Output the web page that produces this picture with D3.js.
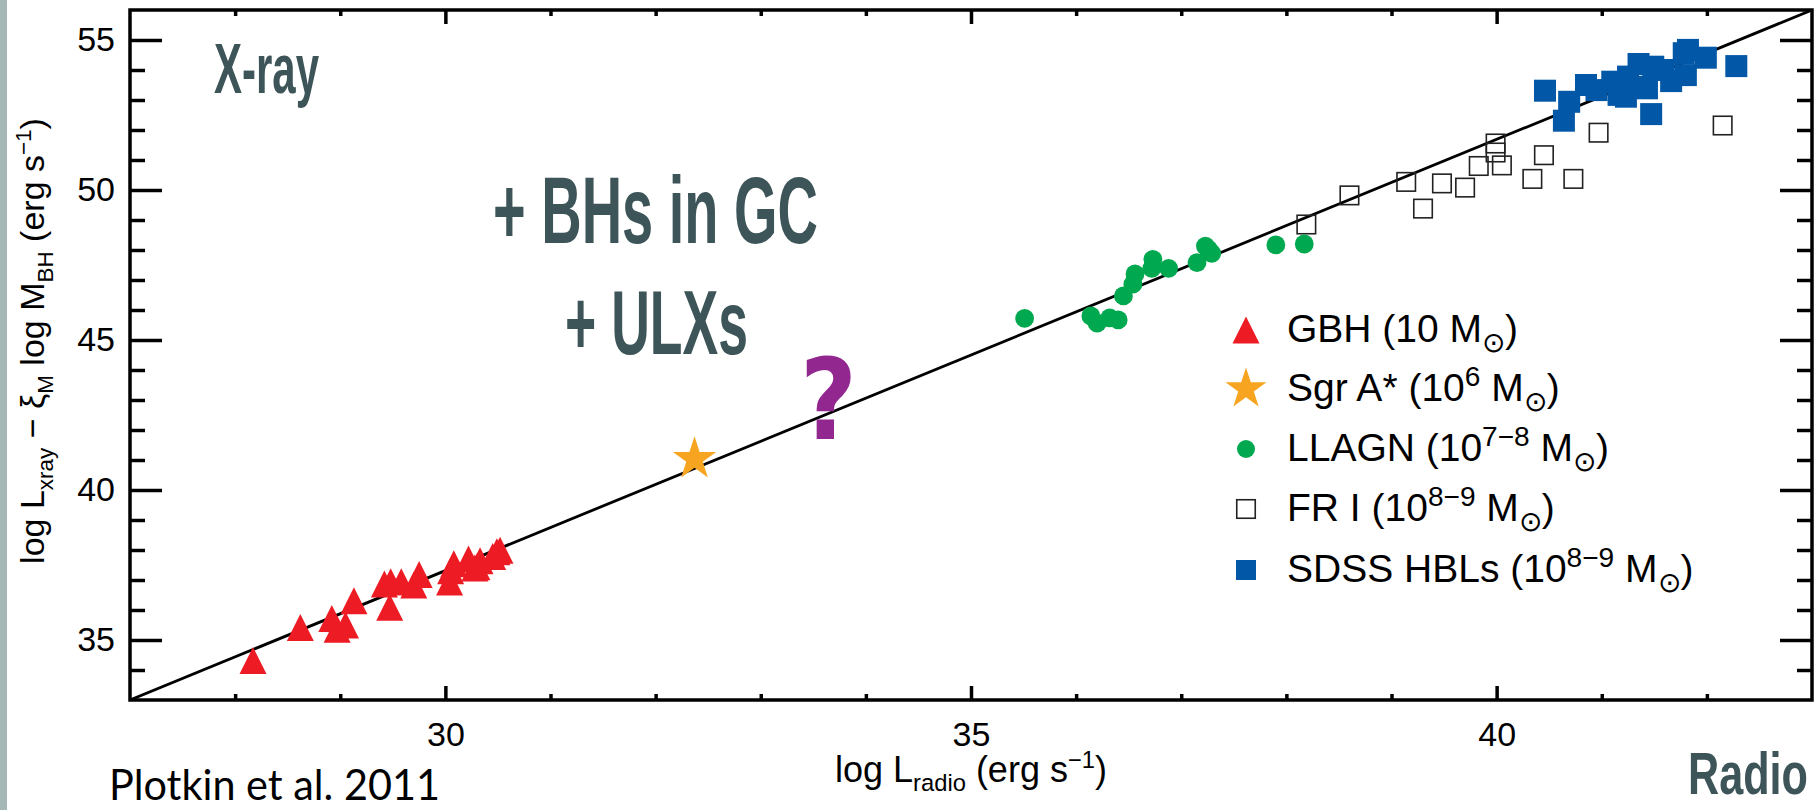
<!DOCTYPE html>
<html>
<head>
<meta charset="utf-8">
<script src="https://cdn.jsdelivr.net/npm/d3@7"></script>
<style>
  html, body { margin: 0; padding: 0; background: #ffffff; }
  svg { display: block; }
</style>
</head>
<body>
<svg id="chart" width="1819" height="810"></svg>
<script>
// ---------------- data ----------------
const xDomain = [27, 43];
const yDomain = [33, 56];
const xMajorTicks = [30, 35, 40];
const xMinorTicks = [28, 29, 31, 32, 33, 34, 36, 37, 38, 39, 41, 42];
const yMajorTicks = [35, 40, 45, 50, 55];
const yMinorTicks = [34, 36, 37, 38, 39, 41, 42, 43, 44, 46, 47, 48, 49, 51, 52, 53, 54];

// fundamental plane fit line (endpoints)
const fitLine = [[27, 33], [43, 56]];

// GBH (10 Msun) — triangles
const gbhX = [28.17, 28.62, 28.92, 28.97, 29.05, 29.13, 29.47, 29.42, 29.48, 29.58, 29.70, 29.75,
              30.04, 30.05, 30.08, 30.22, 30.30, 30.28, 30.33, 30.45, 30.49, 30.52];
const gbhY = [34.32, 35.42, 35.72, 35.36, 35.50, 36.31, 36.09, 36.87, 36.94, 36.94, 36.83, 37.18,
              36.93, 37.31, 37.54, 37.70, 37.44, 37.40, 37.64, 37.78, 37.94, 37.99];

// Sgr A*
const sgrX = [32.37];
const sgrY = [41.03];

// LLAGN — circles
const llagnX = [35.51, 36.14, 36.20, 36.32, 36.40, 36.45, 36.54, 36.56, 36.72, 36.73, 36.88, 37.15,
                37.23, 37.29, 37.26, 37.90, 38.17];
const llagnY = [45.72, 45.80, 45.56, 45.74, 45.67, 46.47, 46.86, 47.20, 47.39, 47.69, 47.39, 47.58,
                48.13, 47.89, 48.02, 48.17, 48.20];

// FR I — open squares
const fr1X = [38.19, 38.60, 39.14, 39.30, 39.48, 39.70, 39.83, 39.99, 39.99, 40.05, 40.34, 40.45,
              40.73, 40.97, 42.15];
const fr1Y = [48.85, 49.82, 50.27, 49.38, 50.22, 50.08, 50.80, 51.55, 51.25, 50.82, 50.37, 51.16,
              50.37, 51.91, 52.15];

// SDSS HBLs — filled squares
const hblX = [40.46, 40.69, 40.64, 40.85, 41.10, 41.16, 41.25, 41.35, 41.43, 41.47, 41.59, 41.66,
              41.80, 41.82, 41.99, 42.28, 41.36, 40.95, 41.78, 41.23, 41.49];
const hblY = [53.31, 52.94, 52.31, 53.50, 53.61, 53.17, 53.78, 54.20, 53.39, 52.53, 54.00, 53.63,
              53.83, 54.67, 54.41, 54.13, 53.44, 53.33, 54.56, 53.11, 54.11];

// legend entries (text parts: n normal, sup, sub)
const legendKeys = ["gbh", "sgr", "llagn", "fr1", "hbl"];
const legendLabels = [
  [["n", "GBH (10 M"], ["sub", "⊙"], ["n", ")"]],
  [["n", "Sgr A* (10"], ["sup", "6"], ["n", " M"], ["sub", "⊙"], ["n", ")"]],
  [["n", "LLAGN (10"], ["sup", "7−8"], ["n", " M"], ["sub", "⊙"], ["n", ")"]],
  [["n", "FR I (10"], ["sup", "8−9"], ["n", " M"], ["sub", "⊙"], ["n", ")"]],
  [["n", "SDSS HBLs (10"], ["sup", "8−9"], ["n", " M"], ["sub", "⊙"], ["n", ")"]]
];

const xTitleParts = [["n", "log L"], ["sub", "radio"], ["n", " (erg s"], ["sup", "−1"], ["n", ")"]];
const yTitleParts = [["n", "log L"], ["sub", "xray"], ["n", " − ξ"], ["sub", "M"], ["n", " log M"], ["sub", "BH"],
                     ["n", " (erg s"], ["sup", "−1"], ["n", ")"]];

// ---------------- layout ----------------
const W = 1819, H = 810;
const plot = { left: 130, right: 1812, top: 10, bottom: 700 };
const C = {
  gbh: "#ed1c24", sgr: "#f7a520", llagn: "#00a84f", fr1: "#222222", hbl: "#0357a7",
  note: "#3d5558", question: "#92278f", band: "#a5b8b5"
};
const FONT = "'Liberation Sans', Arial, Helvetica, sans-serif";

const svg = d3.select("#chart");
const x = d3.scaleLinear().domain(xDomain).range([plot.left, plot.right]);
const y = d3.scaleLinear().domain(yDomain).range([plot.bottom, plot.top]);

// left gray band
svg.append("rect").attr("x", 0).attr("y", 0).attr("width", 7).attr("height", H).attr("fill", C.band);

// clip
svg.append("clipPath").attr("id", "plotclip").append("rect")
  .attr("x", plot.left).attr("y", plot.top)
  .attr("width", plot.right - plot.left).attr("height", plot.bottom - plot.top);

// ---------------- axes ----------------
function styleAxis(g) {
  g.select(".domain").remove();
  g.selectAll(".tick line").attr("stroke", "#000").attr("stroke-width", 3.5);
  g.selectAll(".tick text").attr("font-family", FONT).attr("font-size", 34).attr("fill", "#000");
}
svg.append("g").attr("transform", `translate(0,${plot.bottom})`)
  .call(d3.axisBottom(x).tickValues(xMajorTicks).tickSize(-14).tickPadding(22).tickFormat(d3.format("d")))
  .call(styleAxis);
svg.append("g").attr("transform", `translate(0,${plot.bottom})`)
  .call(d3.axisBottom(x).tickValues(xMinorTicks).tickSize(-6).tickFormat(""))
  .call(styleAxis);
svg.append("g").attr("transform", `translate(0,${plot.top})`)
  .call(d3.axisTop(x).tickValues(xMajorTicks).tickSize(-14).tickFormat(""))
  .call(styleAxis);
svg.append("g").attr("transform", `translate(0,${plot.top})`)
  .call(d3.axisTop(x).tickValues(xMinorTicks).tickSize(-6).tickFormat(""))
  .call(styleAxis);
svg.append("g").attr("transform", `translate(${plot.left},0)`)
  .call(d3.axisLeft(y).tickValues(yMajorTicks).tickSize(-32).tickPadding(15).tickFormat(d3.format("d")))
  .call(styleAxis);
svg.append("g").attr("transform", `translate(${plot.left},0)`)
  .call(d3.axisLeft(y).tickValues(yMinorTicks).tickSize(-15).tickFormat(""))
  .call(styleAxis);
svg.append("g").attr("transform", `translate(${plot.right},0)`)
  .call(d3.axisRight(y).tickValues(yMajorTicks).tickSize(-32).tickFormat(""))
  .call(styleAxis);
svg.append("g").attr("transform", `translate(${plot.right},0)`)
  .call(d3.axisRight(y).tickValues(yMinorTicks).tickSize(-15).tickFormat(""))
  .call(styleAxis);

// ---------------- fit line ----------------
svg.append("path")
  .datum(fitLine)
  .attr("clip-path", "url(#plotclip)")
  .attr("d", d3.line().x(d => x(d[0])).y(d => y(d[1])))
  .attr("fill", "none").attr("stroke", "#000").attr("stroke-width", 2.8);

// ---------------- markers ----------------
const triPath = (cx, cy, s) => `M${cx - s / 2},${cy + s / 2}L${cx + s / 2},${cy + s / 2}L${cx},${cy - s / 2}Z`;
const starSym = d3.symbol(d3.symbolStar);

function drawMarker(g, type, cx, cy, legend) {
  if (type === "gbh") {
    g.append("path").attr("d", triPath(cx, cy, 27)).attr("fill", C.gbh);
  } else if (type === "sgr") {
    g.append("path").attr("d", starSym.size(legend ? 520 : 580)()).attr("transform", `translate(${cx},${cy})`).attr("fill", C.sgr);
  } else if (type === "llagn") {
    g.append("circle").attr("cx", cx).attr("cy", cy).attr("r", legend ? 9 : 9.4).attr("fill", C.llagn);
  } else if (type === "fr1") {
    const s = 18.5;
    g.append("rect").attr("x", cx - s / 2).attr("y", cy - s / 2).attr("width", s).attr("height", s)
      .attr("fill", "none").attr("stroke", C.fr1).attr("stroke-width", 1.6);
  } else if (type === "hbl") {
    const s = legend ? 20 : 22;
    g.append("rect").attr("x", cx - s / 2).attr("y", cy - s / 2).attr("width", s).attr("height", s).attr("fill", C.hbl);
  }
}

const marks = svg.append("g").attr("clip-path", "url(#plotclip)");
const seriesList = [
  ["fr1", fr1X, fr1Y], ["hbl", hblX, hblY], ["llagn", llagnX, llagnY], ["gbh", gbhX, gbhY], ["sgr", sgrX, sgrY]
];
seriesList.forEach(([type, xs, ys]) => {
  xs.forEach((xv, i) => drawMarker(marks, type, x(xv), y(ys[i]), false));
});

// ---------------- rich text helper ----------------
function richText(sel, parts, size, subScale) {
  const sub = size * (subScale || 0.66), up = size * 0.38, down = size * 0.26;
  let state = 0;
  parts.forEach(([kind, t]) => {
    const ts = sel.append("tspan").text(t);
    let target = kind === "sup" ? -up : kind === "sub" ? down : 0;
    const dy = target - state;
    if (dy !== 0) ts.attr("dy", dy);
    state = target;
    ts.attr("font-size", kind === "n" ? size : sub);
  });
}

// ---------------- legend ----------------
const legend = svg.append("g");
const legRowY = [330, 389, 449, 509, 570];
legendKeys.forEach((k, i) => {
  drawMarker(legend, k, 1246, legRowY[i], true);
  const t = legend.append("text").attr("x", 1287).attr("y", legRowY[i] + 12)
    .attr("font-family", FONT).attr("font-size", 39).attr("fill", "#000");
  richText(t, legendLabels[i], 39, 0.72);
});

// ---------------- frame ----------------
svg.append("rect").attr("x", plot.left).attr("y", plot.top)
  .attr("width", plot.right - plot.left).attr("height", plot.bottom - plot.top)
  .attr("fill", "none").attr("stroke", "#000").attr("stroke-width", 3.5);

// ---------------- axis titles ----------------
const xt = svg.append("text").attr("x", (plot.left + plot.right) / 2).attr("y", 782)
  .attr("text-anchor", "middle").attr("font-family", FONT).attr("font-size", 36).attr("fill", "#000");
richText(xt, xTitleParts, 36);

const yt = svg.append("text")
  .attr("transform", `translate(44,${(plot.top + plot.bottom) / 2 - 14}) rotate(-90)`)
  .attr("text-anchor", "middle").attr("font-family", FONT).attr("font-size", 34).attr("fill", "#000");
richText(yt, yTitleParts, 34);

// ---------------- annotations ----------------
const NOTEFONT = "'Liberation Sans', Arial, sans-serif";
function note(txt, xPos, yBase, size, len, color, weight, family) {
  svg.append("text").attr("x", xPos).attr("y", yBase)
    .attr("font-family", family || NOTEFONT).attr("font-size", size)
    .attr("font-weight", weight || "normal")
    .attr("fill", color).attr("textLength", len).attr("lengthAdjust", "spacingAndGlyphs")
    .text(txt);
}
note("X-ray", 214, 93, 70, 105, C.note, "bold");
note("+ BHs in GC", 493, 243, 95, 325, C.note, "bold");
note("+ ULXs", 565, 354, 90, 183, C.note, "bold");
note("Radio", 1688, 794, 60, 120, C.note, "bold");
note("?", 800, 439, 112, 57, C.question, "bold", "'DejaVu Sans', sans-serif");
note("Plotkin et al. 2011", 109, 800, 42, 331, "#000", "normal", "Lato, 'Open Sans', sans-serif");
</script>
</body>
</html>
